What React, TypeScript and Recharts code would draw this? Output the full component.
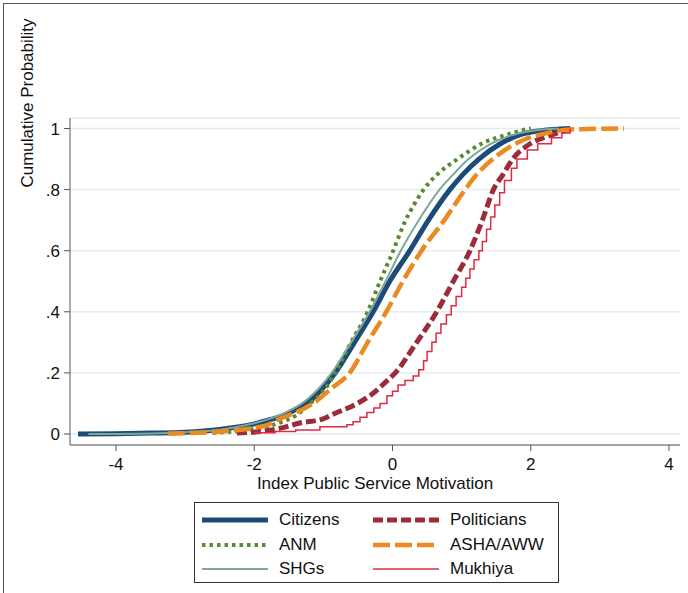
import React from "react"
import { LineChart, Line, XAxis, YAxis, CartesianGrid } from "recharts"

// cumulative distribution points: [index value, cumulative probability]
const citizens: [number, number][] = [
  [-4.55, 0], [-4.0, 0.001], [-3.5, 0.003], [-3.0, 0.006], [-2.5, 0.015], [-2.0, 0.033],
  [-1.8, 0.045], [-1.58, 0.06], [-1.4, 0.08], [-1.24, 0.1], [-1.05, 0.14], [-0.83, 0.2],
  [-0.55, 0.3], [-0.28, 0.4], [-0.04, 0.5], [0.25, 0.6], [0.52, 0.7], [0.83, 0.8],
  [1.02, 0.85], [1.25, 0.9], [1.56, 0.95], [1.85, 0.98], [2.15, 0.993], [2.57, 1.0],
]

const anm: [number, number][] = [
  [-2.6, 0.004], [-2.2, 0.01], [-1.9, 0.02], [-1.6, 0.04], [-1.4, 0.06], [-1.19, 0.1],
  [-1.0, 0.14], [-0.83, 0.2], [-0.6, 0.3], [-0.36, 0.4], [-0.18, 0.5], [0.01, 0.6],
  [0.19, 0.7], [0.31, 0.75], [0.45, 0.8], [0.65, 0.85], [0.94, 0.9], [1.33, 0.955],
  [1.66, 0.98], [1.89, 0.995], [2.0, 1.0],
]

const shgs: [number, number][] = [
  [-4.4, 0], [-3.5, 0.002], [-3.0, 0.006], [-2.5, 0.014], [-2.0, 0.035], [-1.6, 0.065],
  [-1.25, 0.11], [-0.88, 0.2], [-0.6, 0.3], [-0.33, 0.4], [-0.1, 0.5], [0.12, 0.6],
  [0.38, 0.7], [0.68, 0.8], [0.88, 0.85], [1.1, 0.9], [1.42, 0.95], [1.72, 0.978],
  [2.0, 0.992], [2.4, 1.0],
]

const politicians: [number, number][] = [
  [-2.25, 0.003], [-1.92, 0.008], [-1.6, 0.02], [-1.34, 0.036], [-1.0, 0.05], [-0.86, 0.065],
  [-0.51, 0.1], [-0.3, 0.13], [-0.1, 0.17], [0.04, 0.2], [0.35, 0.3], [0.64, 0.4],
  [0.88, 0.5], [1.12, 0.6], [1.3, 0.7], [1.46, 0.8], [1.6, 0.85], [1.74, 0.9],
  [1.99, 0.95], [2.25, 0.975], [2.45, 0.99], [2.6, 1.0],
]

const asha: [number, number][] = [
  [-3.25, 0.002], [-2.8, 0.004], [-2.4, 0.01], [-2.0, 0.02], [-1.8, 0.03], [-1.63, 0.05],
  [-1.4, 0.07], [-1.15, 0.1], [-0.88, 0.15], [-0.62, 0.2], [-0.36, 0.3], [-0.09, 0.4],
  [0.15, 0.5], [0.42, 0.6], [0.75, 0.7], [1.05, 0.8], [1.22, 0.85], [1.45, 0.9],
  [1.82, 0.955], [2.23, 0.985], [2.57, 0.997], [3.35, 1.0],
]

const mukhiya: [number, number][] = [
  [-2.0, 0.004], [-1.7, 0.008], [-1.4, 0.013], [-1.05, 0.024], [-0.66, 0.03], [-0.57, 0.04],
  [-0.47, 0.055], [-0.37, 0.07], [-0.27, 0.085], [-0.18, 0.1], [-0.08, 0.125], [0.0, 0.14],
  [0.08, 0.16], [0.18, 0.175], [0.3, 0.19], [0.38, 0.21], [0.45, 0.24], [0.5, 0.27],
  [0.57, 0.3], [0.63, 0.33], [0.7, 0.36], [0.78, 0.39], [0.85, 0.42], [0.92, 0.45],
  [1.0, 0.48], [1.06, 0.51], [1.12, 0.54], [1.18, 0.57], [1.25, 0.6], [1.3, 0.63],
  [1.36, 0.67], [1.42, 0.71], [1.48, 0.75], [1.55, 0.79], [1.62, 0.83], [1.72, 0.87],
  [1.8, 0.9], [1.95, 0.93], [2.1, 0.95], [2.3, 0.97], [2.45, 0.985], [2.57, 1.0],
]

const xTicks = [-4, -2, 0, 2, 4]
const yTicks = [0, 0.2, 0.4, 0.6, 0.8, 1]

const toRows = (pts: [number, number][]) => pts.map(([x, p]) => ({ x, p }))

const series = [
  { name: "Citizens", pts: citizens, color: "#1b4c79", width: 5, dash: undefined, type: "monotoneX" },
  { name: "ANM", pts: anm, color: "#5a8a31", width: 4, dash: "3.5 4", type: "monotoneX" },
  { name: "SHGs", pts: shgs, color: "#7ea79b", width: 2, dash: undefined, type: "monotoneX" },
  { name: "Politicians", pts: politicians, color: "#9b2d3a", width: 5, dash: "10 4", type: "monotoneX" },
  { name: "ASHA/AWW", pts: asha, color: "#ea8a20", width: 4.5, dash: "17 5", type: "monotoneX" },
  { name: "Mukhiya", pts: mukhiya, color: "#dc2b42", width: 1.5, dash: undefined, type: "stepAfter" },
]

// legend order: left column then right column, row by row
const legendOrder = ["Citizens", "Politicians", "ANM", "ASHA/AWW", "SHGs", "Mukhiya"]

const font = "'Liberation Sans', Arial, sans-serif"

const fmtY = (v: number) => (v === 0 ? "0" : v === 1 ? "1" : String(v).replace("0.", "."))

const LegendBox = () => (
  <div
    style={{
      position: "absolute",
      left: 194,
      top: 502,
      width: 363,
      height: 79,
      border: "1.5px solid #333",
      background: "#fff",
      fontFamily: font,
      fontSize: 17,
      color: "#111",
    }}
  >
    {legendOrder.map((n, i) => {
      const s = series.find((d) => d.name === n)!
      const col = i % 2
      const row = Math.floor(i / 2)
      return (
        <div key={n} style={{ position: "absolute", left: col === 0 ? 7 : 178, top: 7 + row * 24.5, height: 20, display: "flex", alignItems: "center" }}>
          <svg width={66} height={20}>
            <line x1={0} x2={66} y1={10} y2={10} stroke={s.color} strokeWidth={s.width} strokeDasharray={s.dash} />
          </svg>
          <span style={{ marginLeft: 11 }}>{n}</span>
        </div>
      )
    })}
  </div>
)

export default function App() {
  return (
    <div style={{ position: "absolute", left: 0, top: 0, width: 688, height: 593, background: "#fff", fontFamily: font }}>
      <div style={{ position: "absolute", left: 3, top: 3, width: 685, height: 590, borderLeft: "1.5px solid #555", borderTop: "1.5px solid #555" }} />
      <LineChart width={688} height={593} margin={{ top: 118, right: 8, bottom: 0, left: 0 }}>
        <CartesianGrid horizontal vertical={false} stroke="#e3edef" strokeWidth={1.5} />
        <XAxis
          type="number"
          dataKey="x"
          domain={[-4.6655, 4.159]}
          ticks={xTicks}
          allowDataOverflow
          height={148}
          stroke="#555"
          tickSize={6}
          tickMargin={7}
          tick={{ fill: "#111", fontSize: 17, fontFamily: font }}
        />
        <YAxis
          type="number"
          dataKey="p"
          domain={[-0.036, 1.0344]}
          ticks={yTicks}
          allowDataOverflow
          width={70}
          stroke="#555"
          tickSize={6}
          tickMargin={4}
          tickFormatter={fmtY}
          tick={{ fill: "#111", fontSize: 17, fontFamily: font }}
        />
        {series.map((s) => (
          <Line
            key={s.name}
            data={toRows(s.pts)}
            dataKey="p"
            name={s.name}
            type={s.type as any}
            stroke={s.color}
            strokeWidth={s.width}
            strokeDasharray={s.dash}
            dot={false}
            activeDot={false}
            isAnimationActive={false}
          />
        ))}
      </LineChart>
      <div
        style={{
          position: "absolute",
          left: 28,
          top: 103,
          transform: "translate(-50%, -50%) rotate(-90deg)",
          whiteSpace: "nowrap",
          fontSize: 17,
          color: "#111",
        }}
      >
        Cumulative Probability
      </div>
      <div style={{ position: "absolute", left: 375, top: 484, transform: "translate(-50%, -50%)", whiteSpace: "nowrap", fontSize: 17, color: "#111" }}>
        Index Public Service Motivation
      </div>
      <LegendBox />
    </div>
  )
}
